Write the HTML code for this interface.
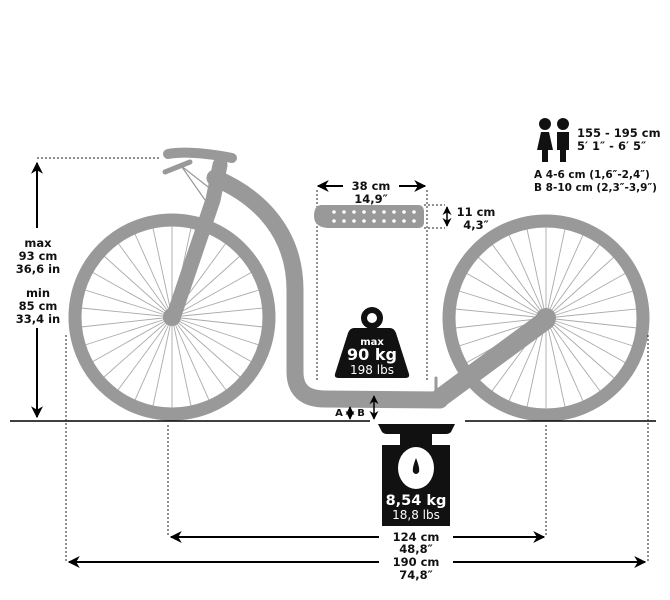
<!DOCTYPE html>
<html><head><meta charset="utf-8"><style>
html,body{margin:0;padding:0;background:#fff;}
svg{display:block;}
text{font-family:"DejaVu Sans","Liberation Sans",sans-serif;font-weight:bold;fill:#111;}
</style></head><body>
<svg width="670" height="600" viewBox="0 0 670 600" xmlns="http://www.w3.org/2000/svg">
<defs>
<marker id="ah" viewBox="0 0 10 10" refX="9" refY="5" markerWidth="6" markerHeight="6" orient="auto-start-reverse"><path d="M0,0 L10,5 L0,10 L3,5 z" fill="#000"/></marker>
</defs>
<g stroke="#aaa" stroke-width="0.9" fill="none">
<path d="M172,317 L172,226 M172,317 L191,228 M172,317 L209,234 M172,317 L226,243 M172,317 L240,256 M172,317 L252,272 M172,317 L259,290 M172,317 L263,308 M172,317 L263,327 M172,317 L259,345 M172,317 L252,362 M172,317 L240,377 M172,317 L226,390 M172,317 L209,400 M172,317 L191,406 M172,317 L172,408 M172,317 L153,406 M172,317 L135,400 M172,317 L118,390 M172,317 L104,377 M172,317 L92,362 M172,317 L85,345 M172,317 L81,327 M172,317 L81,308 M172,317 L85,290 M172,317 L92,272 M172,317 L104,256 M172,317 L118,243 M172,317 L135,234 M172,317 L153,228"/>
<g transform="translate(374,1)">
<path d="M172,317 L172,226 M172,317 L191,228 M172,317 L209,234 M172,317 L226,243 M172,317 L240,256 M172,317 L252,272 M172,317 L259,290 M172,317 L263,308 M172,317 L263,327 M172,317 L259,345 M172,317 L252,362 M172,317 L240,377 M172,317 L226,390 M172,317 L209,400 M172,317 L191,406 M172,317 L172,408 M172,317 L153,406 M172,317 L135,400 M172,317 L118,390 M172,317 L104,377 M172,317 L92,362 M172,317 L85,345 M172,317 L81,327 M172,317 L81,308 M172,317 L85,290 M172,317 L92,272 M172,317 L104,256 M172,317 L118,243 M172,317 L135,234 M172,317 L153,228"/>
</g>
</g>
<circle cx="172" cy="317" r="97" fill="none" stroke="#999" stroke-width="13"/>
<circle cx="546" cy="318" r="97" fill="none" stroke="#999" stroke-width="13"/>
<circle cx="172" cy="317" r="9" fill="#999"/>
<circle cx="546" cy="318" r="10" fill="#999"/>
<g fill="none" stroke="#999" stroke-linecap="round" stroke-linejoin="round">
<path d="M215,178 C262,198 295,235 295,290 L295,372 Q295,399 325,399 L440,400" stroke-width="17"/>
<path d="M440,398 L546,320" stroke-width="19"/>
<path d="M220,165 L213,200 L174,315" stroke-width="15"/>
<path d="M168,154 Q190,150 232,158" stroke-width="10"/>
<path d="M165,172 L190,162" stroke-width="5"/>
<path d="M180,165 L212,190 M182,167 L205,200" stroke-width="1.2"/>
<path d="M436,378 L436,395" stroke-width="3"/>
</g>
<path d="M10,421 H370 M465,421 H656" stroke="#000" stroke-width="1.6"/>
<g stroke="#222" stroke-width="1" stroke-dasharray="2,2" fill="none">
<path d="M37,158 H160"/>
<path d="M66,335 V562 M648,335 V562 M168,425 V537 M546,425 V537"/>
<path d="M317,190 V380 M427,190 V380"/>
<path d="M424,205 H445 M424,228 H445"/>
</g>
<g stroke="#000" stroke-width="2" fill="none" marker-start="url(#ah)" marker-end="url(#ah)">
<path d="M37,163 V417"/>
<path d="M318,186 H425"/>
<path d="M171,537 H544"/>
<path d="M69,562 H645"/>
</g>
<g stroke="#000" stroke-width="1.5" fill="none" marker-start="url(#ah)" marker-end="url(#ah)">
<path d="M447,207 V226"/>
<path d="M374,396 V419"/>
<path d="M350,407 V419"/>
</g>
<rect x="16" y="228" width="46" height="100" fill="#fff"/>
<rect x="343" y="178" width="56" height="30" fill="#fff"/>
<rect x="379" y="528" width="74" height="50" fill="#fff"/>
<path d="M322,205 H418 Q424,205 424,212 V222 Q424,228 418,228 H330 Q314,228 314,216 Q314,205 322,205 Z" fill="#999"/>
<g fill="#fff">
<circle cx="334" cy="212" r="1.8"/><circle cx="344" cy="212" r="1.8"/><circle cx="354" cy="212" r="1.8"/><circle cx="364" cy="212" r="1.8"/><circle cx="374" cy="212" r="1.8"/><circle cx="384" cy="212" r="1.8"/><circle cx="394" cy="212" r="1.8"/><circle cx="404" cy="212" r="1.8"/><circle cx="414" cy="212" r="1.8"/>
<circle cx="334" cy="221" r="1.8"/><circle cx="344" cy="221" r="1.8"/><circle cx="354" cy="221" r="1.8"/><circle cx="364" cy="221" r="1.8"/><circle cx="374" cy="221" r="1.8"/><circle cx="384" cy="221" r="1.8"/><circle cx="394" cy="221" r="1.8"/><circle cx="404" cy="221" r="1.8"/><circle cx="414" cy="221" r="1.8"/>
</g>
<circle cx="372" cy="318" r="11" fill="#111"/>
<circle cx="372" cy="318" r="5" fill="#fff"/>
<path d="M354,328 H390 Q394,328 396,333 L409,374 Q410,378 405,378 H339 Q334,378 335,374 L348,333 Q350,328 354,328 Z" fill="#111"/>
<text x="372" y="345" font-size="10" text-anchor="middle" style="fill:#fff">max</text>
<text x="372" y="360" font-size="16" text-anchor="middle" style="fill:#fff">90 kg</text>
<text x="372" y="374" font-size="12" text-anchor="middle" style="fill:#fff;font-weight:normal">198 lbs</text>
<path d="M378,424 H455 L451,432 Q449,434 446,434 H387 Q384,434 382,432 Z" fill="#111"/>
<rect x="400" y="433" width="32" height="12" fill="#111"/>
<rect x="382" y="445" width="68" height="81" fill="#111"/>
<ellipse cx="416" cy="468" rx="18" ry="21" fill="#fff"/>
<path d="M416,458 Q420,468 419,472 Q416,476 413,472 Q412,468 416,458 Z" fill="#111"/>
<text x="416" y="505" font-size="14.5" text-anchor="middle" style="fill:#fff">8,54 kg</text>
<text x="416" y="519" font-size="12" text-anchor="middle" style="fill:#fff;font-weight:normal">18,8 lbs</text>
<g fill="#111">
<circle cx="545" cy="124" r="6"/>
<path d="M541,132 H549 L553,150 H548 V162 H542 V150 H537 Z"/>
<circle cx="563" cy="124" r="6"/>
<path d="M557,132 H569 V150 H566 V162 H560 V150 H557 Z"/>
</g>
<g font-size="11.5">
<text x="38" y="247" text-anchor="middle">max</text>
<text x="38" y="260" text-anchor="middle">93 cm</text>
<text x="38" y="273" text-anchor="middle">36,6 in</text>
<text x="38" y="297" text-anchor="middle">min</text>
<text x="38" y="310" text-anchor="middle">85 cm</text>
<text x="38" y="323" text-anchor="middle">33,4 in</text>
<text x="371" y="190" text-anchor="middle">38 cm</text>
<text x="371" y="203" text-anchor="middle">14,9″</text>
<text x="476" y="216" text-anchor="middle">11 cm</text>
<text x="476" y="229" text-anchor="middle">4,3″</text>
<text x="577" y="137">155 - 195 cm</text>
<text x="577" y="150">5′ 1″ - 6′ 5″</text>
<text x="534" y="178" font-size="10.5">A 4-6 cm (1,6″-2,4″)</text>
<text x="534" y="191" font-size="10.5">B 8-10 cm (2,3″-3,9″)</text>
<text x="416" y="541" text-anchor="middle">124 cm</text>
<text x="416" y="553" text-anchor="middle">48,8″</text>
<text x="416" y="566" text-anchor="middle">190 cm</text>
<text x="416" y="579" text-anchor="middle">74,8″</text>
<text x="339" y="416" font-size="10" text-anchor="middle">A</text>
<text x="361" y="416" font-size="10" text-anchor="middle">B</text>
</g>
</svg>
</body></html>
